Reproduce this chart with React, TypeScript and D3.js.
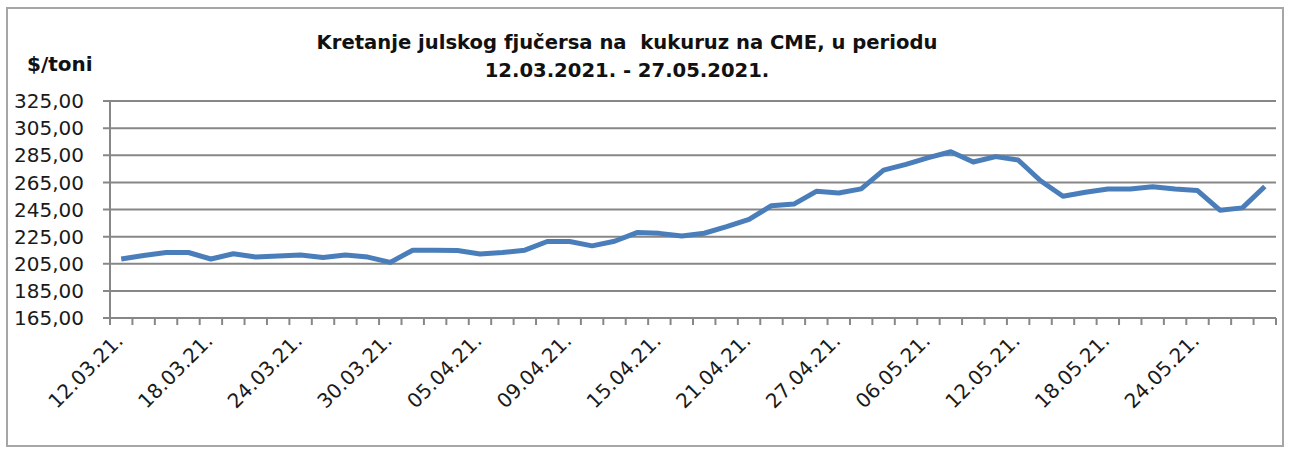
import React, { useRef, useEffect } from 'react';
import * as d3 from 'd3';

// trgovački dani (svaki 4. se prikazuje na osi)
const dates = [
    '12.03.21.', '15.03.21.', '16.03.21.', '17.03.21.', '18.03.21.', '19.03.21.', '22.03.21.', '23.03.21.',
    '24.03.21.', '25.03.21.', '26.03.21.', '29.03.21.', '30.03.21.', '31.03.21.', '01.04.21.', '02.04.21.',
    '05.04.21.', '06.04.21.', '07.04.21.', '08.04.21.', '09.04.21.', '12.04.21.', '13.04.21.', '14.04.21.',
    '15.04.21.', '16.04.21.', '19.04.21.', '20.04.21.', '21.04.21.', '22.04.21.', '23.04.21.', '26.04.21.',
    '27.04.21.', '29.04.21.', '30.04.21.', '04.05.21.', '06.05.21.', '07.05.21.', '10.05.21.', '11.05.21.',
    '12.05.21.', '13.05.21.', '14.05.21.', '17.05.21.', '18.05.21.', '19.05.21.', '20.05.21.', '21.05.21.',
    '24.05.21.', '25.05.21.', '26.05.21.', '27.05.21.'
];

const prices = [
    208.5, 211.1, 213.3, 213.3, 208.5, 212.4, 209.9, 210.7, 211.4, 209.6,
    211.4, 209.9, 206.0, 215.0, 215.0, 214.8, 212.2, 213.3, 215.0, 221.4,
    221.4, 218.2, 221.6, 228.0, 227.4, 225.4, 227.5, 232.3, 237.7, 247.8,
    249.0, 258.4, 257.2, 260.2, 274.0, 278.3, 283.2, 287.6, 280.0, 284.0,
    281.5, 266.2, 254.8, 257.7, 260.1, 260.1, 261.8, 260.1, 259.0, 244.5,
    246.2, 262.0
];

const yTicks = [165, 185, 205, 225, 245, 265, 285, 305, 325];

const titleLines = ['Kretanje julskog fjučersa na  kukuruz na CME, u periodu', '12.03.2021. - 27.05.2021.'];
const unitLabel = '$/toni';

const App = () => {
    const svgRef = useRef(null);

    useEffect(() => {
        drawChart();
    }, []);

    const drawChart = () => {
        const svg = d3.select(svgRef.current);
        svg.selectAll('*').remove();

        const width = 1291;
        const height = 450;
        const margin = { top: 101, right: 15, bottom: 132, left: 110 };
        const font = '"DejaVu Sans", sans-serif';
        const gridColor = '#878787';

        svg.attr('width', width).attr('height', height);

        svg.append('rect')
            .attr('x', 7).attr('y', 8)
            .attr('width', 1276).attr('height', 438)
            .attr('fill', 'white')
            .attr('stroke', '#a6a6a6')
            .attr('stroke-width', 2);

        const x = d3.scaleBand()
            .domain(dates)
            .range([margin.left, width - margin.right])
            .padding(0);

        const y = d3.scaleLinear()
            .domain([165, 325])
            .range([height - margin.bottom, margin.top]);

        const bw = x.bandwidth();
        const cx = d => x(d) + bw / 2;

        // horizontalne linije mreže
        svg.append('g')
            .selectAll('line')
            .data(yTicks)
            .enter().append('line')
            .attr('x1', margin.left - 7)
            .attr('x2', width - margin.right)
            .attr('y1', d => y(d))
            .attr('y2', d => y(d))
            .attr('stroke', gridColor)
            .attr('stroke-width', 2);

        // y osa
        svg.append('line')
            .attr('x1', margin.left).attr('x2', margin.left)
            .attr('y1', y(325)).attr('y2', y(165))
            .attr('stroke', gridColor)
            .attr('stroke-width', 2);

        svg.append('g')
            .selectAll('text')
            .data(yTicks)
            .enter().append('text')
            .attr('x', 84)
            .attr('y', d => y(d))
            .attr('dy', '0.36em')
            .attr('text-anchor', 'end')
            .style('font-family', font)
            .style('font-size', '20px')
            .attr('fill', '#1a1a1a')
            .text(d => d.toFixed(2).replace('.', ','));

        // x osa s podjelama
        const baseY = y(165);
        const tickPos = dates.map(d => x(d)).concat([width - margin.right]);
        svg.append('g')
            .selectAll('line')
            .data(tickPos)
            .enter().append('line')
            .attr('x1', d => d).attr('x2', d => d)
            .attr('y1', baseY).attr('y2', baseY + 7)
            .attr('stroke', gridColor)
            .attr('stroke-width', 2);

        svg.append('g')
            .selectAll('text')
            .data(dates.filter((d, i) => i % 4 === 0))
            .enter().append('text')
            .attr('transform', d => `translate(${cx(d) + 3},${baseY + 24}) rotate(-45)`)
            .attr('text-anchor', 'end')
            .style('font-family', font)
            .style('font-size', '20px')
            .attr('fill', '#1a1a1a')
            .text(d => d);

        // linija cijene
        const line = d3.line()
            .x((d, i) => cx(dates[i]))
            .y(d => y(d));

        svg.append('path')
            .datum(prices)
            .attr('d', line)
            .attr('fill', 'none')
            .attr('stroke', '#4a7ebb')
            .attr('stroke-width', 5)
            .attr('stroke-linejoin', 'round');

        // naslov
        svg.append('g')
            .selectAll('text')
            .data(titleLines)
            .enter().append('text')
            .attr('x', 627)
            .attr('y', (d, i) => 49 + i * 28)
            .attr('text-anchor', 'middle')
            .style('font-family', font)
            .style('font-size', '19.6px')
            .style('font-weight', 'bold')
            .style('white-space', 'pre')
            .attr('fill', '#111')
            .text(d => d);

        svg.append('text')
            .attr('x', 27)
            .attr('y', 71)
            .style('font-family', font)
            .style('font-size', '20px')
            .style('font-weight', 'bold')
            .attr('fill', '#111')
            .text(unitLabel);
    };

    return (
        <svg ref={svgRef} style={{ position: 'absolute', left: 0, top: 0 }}></svg>
    );
};

export default App;
